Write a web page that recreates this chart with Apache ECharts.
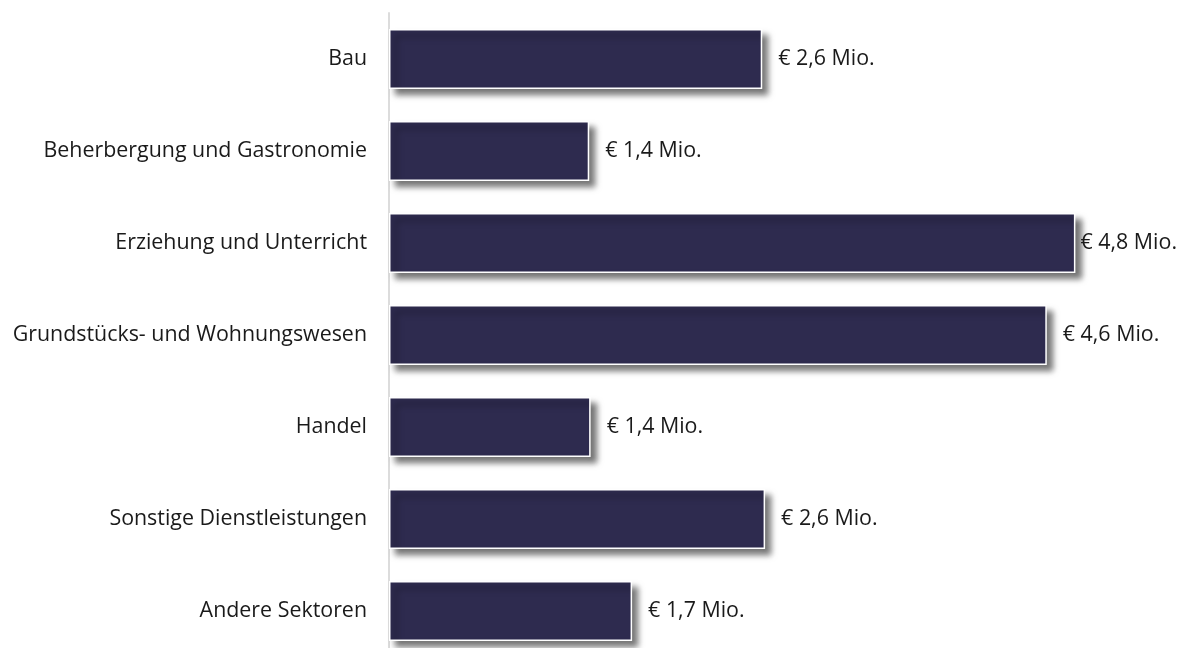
<!DOCTYPE html>
<html>
<head>
<meta charset="utf-8">
<script src="https://cdn.jsdelivr.net/npm/echarts@6/dist/echarts.min.js"></script>
<style>
    html, body { margin: 0; padding: 0; background: #fff; }
    #main { width: 1179px; height: 648px; }
</style>
</head>
<body>
<div id="main"></div>
<script>
// Sektoren (von oben nach unten)
var categories = [
    'Bau',
    'Beherbergung und Gastronomie',
    'Erziehung und Unterricht',
    'Grundstücks- und Wohnungswesen',
    'Handel',
    'Sonstige Dienstleistungen',
    'Andere Sektoren'
];
// Werte in Mio. €
var values = [2.61, 1.40, 4.80, 4.60, 1.41, 2.63, 1.70];

var myChart = echarts.init(document.getElementById('main'));

function fmt(v) {
    return '€ ' + v.toFixed(1).replace('.', ',') + ' Mio.';
}

var option = {
    animation: false,
    textStyle: { fontFamily: 'Open Sans' },
    grid: {
        left: 389,
        top: 13,
        width: 715,
        height: 644,
        outerBoundsMode: 'none',
        containLabel: false
    },
    xAxis: {
        type: 'value',
        min: 0,
        max: 5,
        show: false
    },
    yAxis: {
        type: 'category',
        inverse: true,
        data: categories,
        axisLine: {
            show: true,
            lineStyle: { color: '#dcdcdc', width: 2 }
        },
        axisTick: { show: false },
        axisLabel: {
            color: '#1a1a1a',
            fontSize: 21.4,
            margin: 22
        }
    },
    series: [
        {
            type: 'bar',
            data: values,
            barWidth: 60,
            itemStyle: {
                color: '#2e2b4f',
                borderColor: '#ffffff',
                borderWidth: 1.5,
                shadowColor: 'rgba(0, 0, 0, 0.55)',
                shadowBlur: 6,
                shadowOffsetX: 6,
                shadowOffsetY: 6
            },
            label: {
                show: true,
                position: 'right',
                distance: 16,
                color: '#1a1a1a',
                fontSize: 21.4,
                formatter: function (p) { return fmt(p.value); }
            },
            labelLayout: function (params) {
                var r = params.labelRect;
                var limit = myChart.getWidth() - 2;
                if (r.x + r.width > limit) {
                    return { x: limit - r.width, y: r.y + r.height / 2, verticalAlign: 'middle', align: 'left' };
                }
            }
        }
    ]
};

myChart.setOption(option);
</script>
</body>
</html>
